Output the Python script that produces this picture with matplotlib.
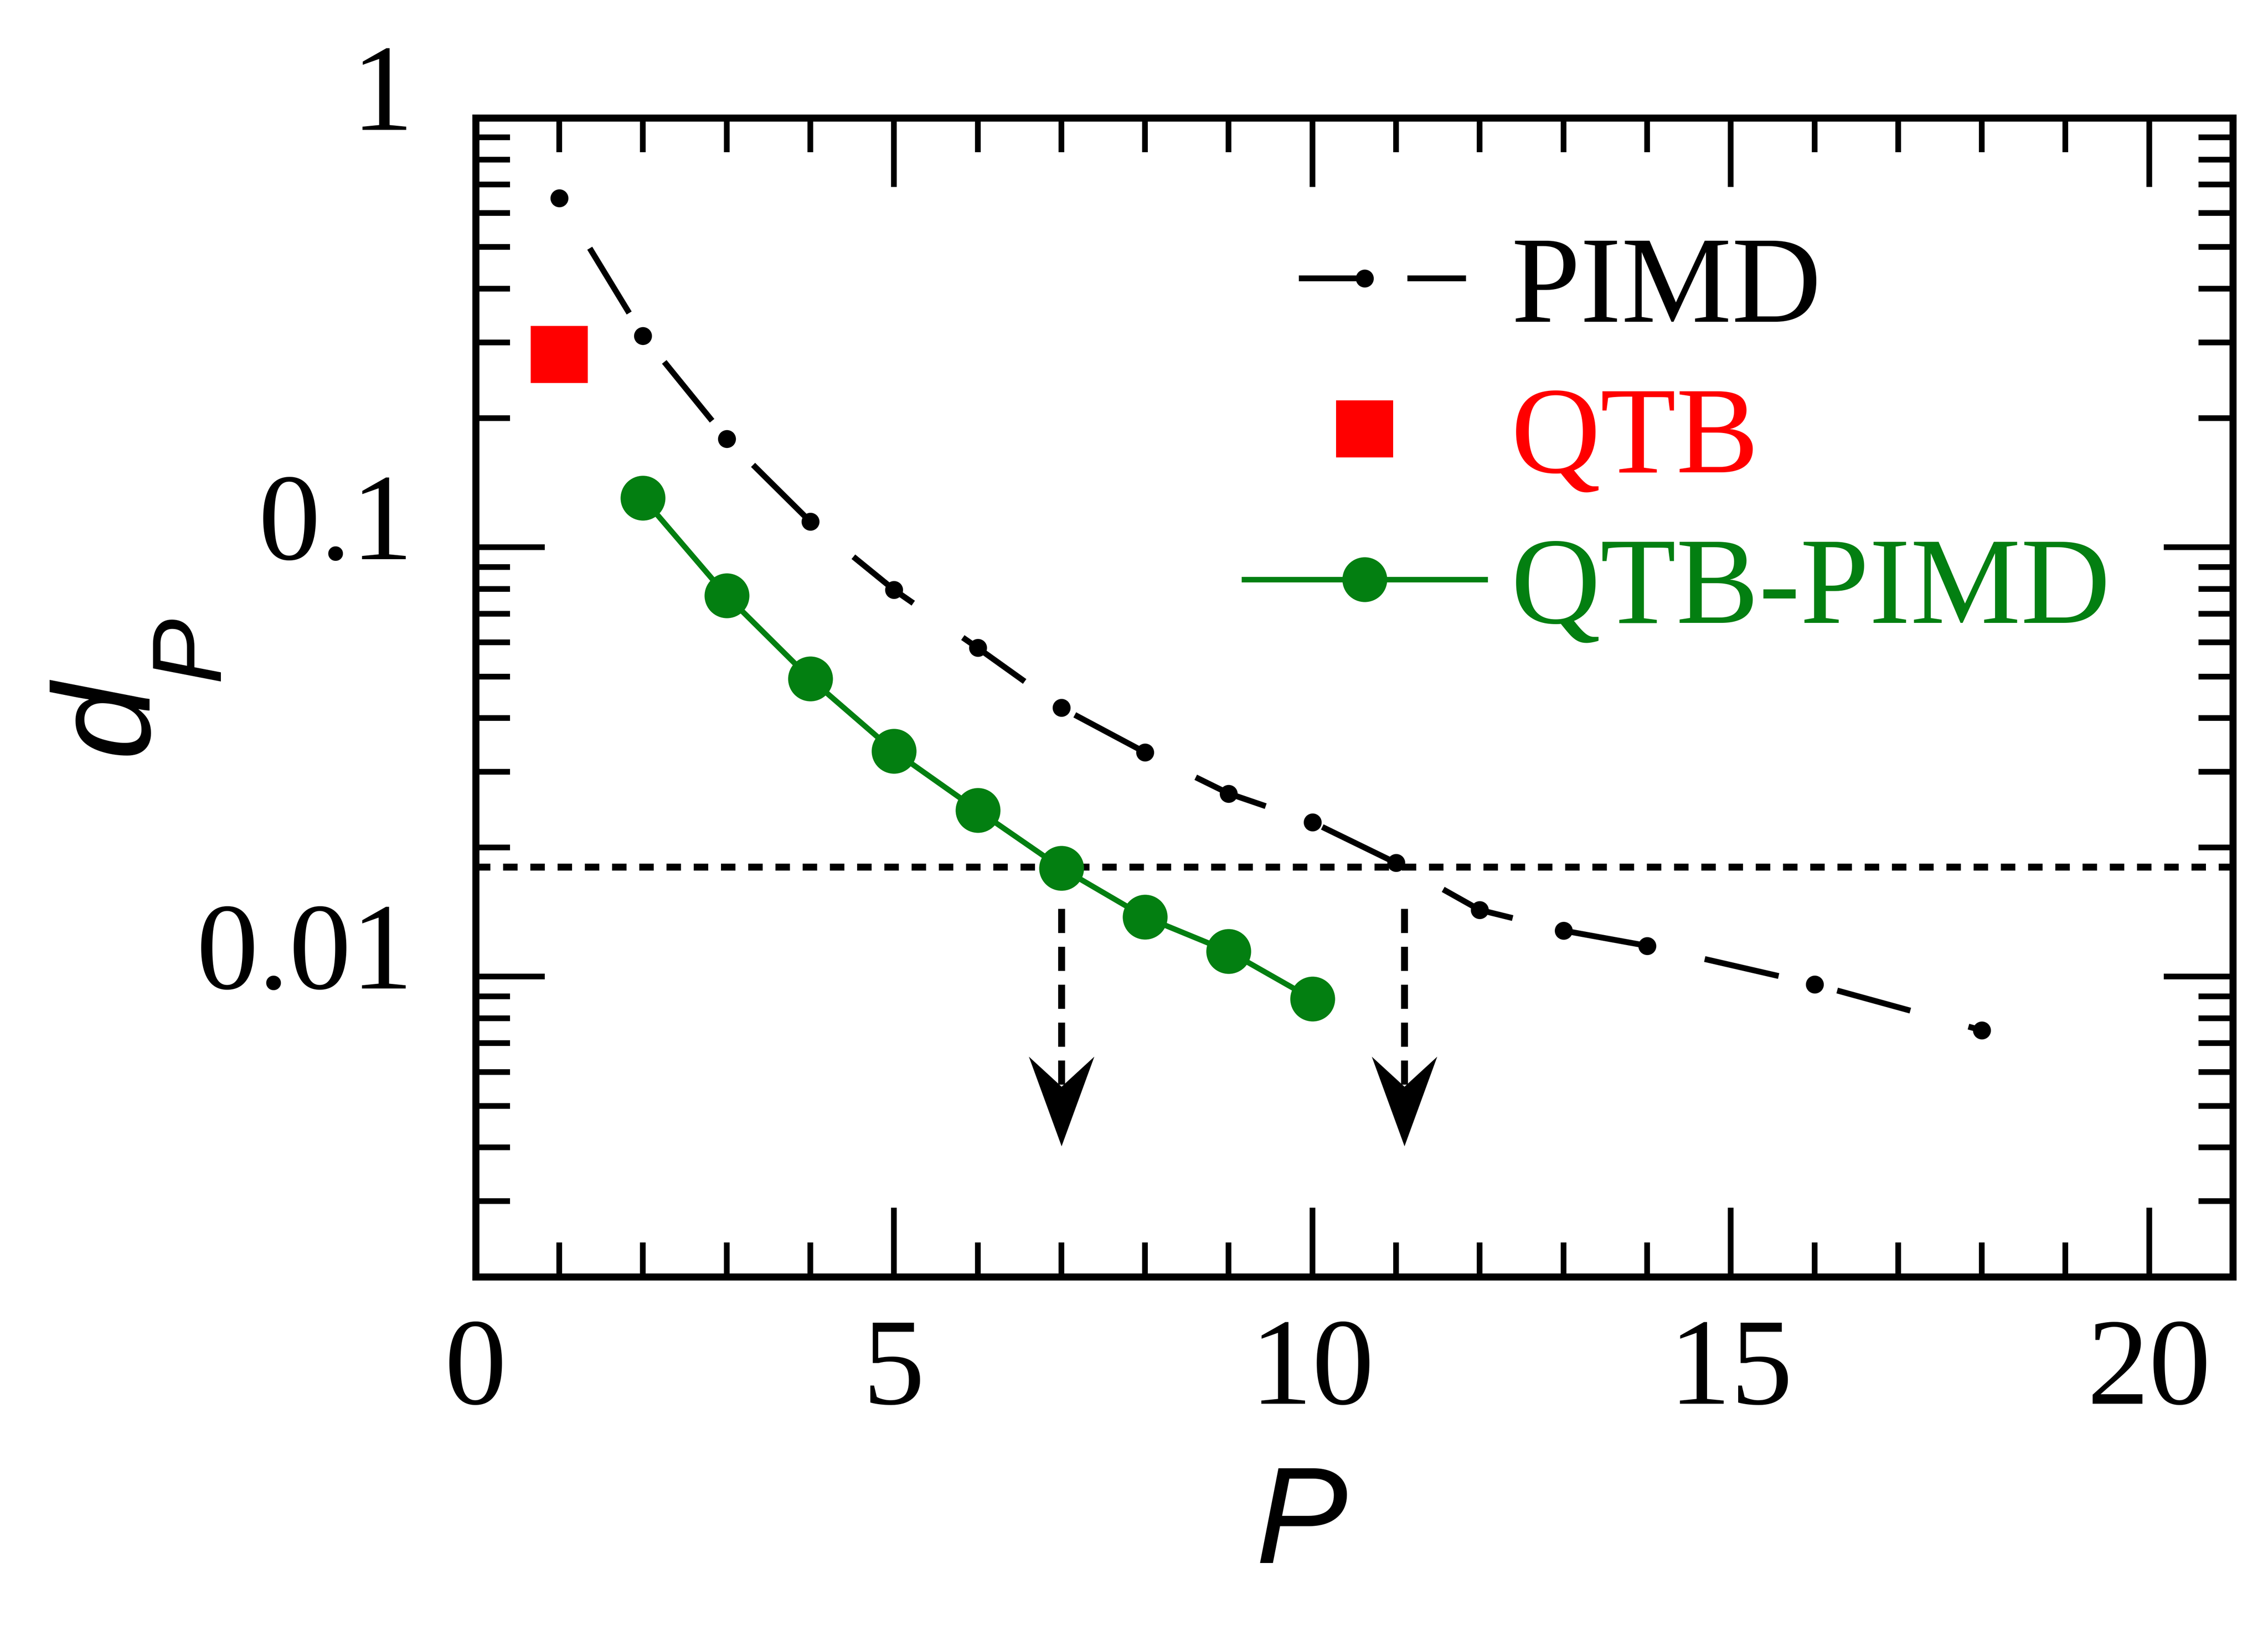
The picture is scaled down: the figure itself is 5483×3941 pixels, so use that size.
import numpy as np
import matplotlib
matplotlib.use("Agg")
import matplotlib.pyplot as plt
from matplotlib.ticker import MultipleLocator, LogLocator, FuncFormatter, NullFormatter
from matplotlib.path import Path
import matplotlib.transforms as mtransforms

# data
P_pimd = [1, 2, 3, 4, 5, 6, 7, 8, 9, 10, 11, 12, 13, 14, 16, 18]
d_pimd = [0.650, 0.311, 0.179, 0.1147, 0.0796, 0.0583, 0.0423, 0.0333, 0.0267,
          0.0229, 0.0184, 0.0143, 0.0128, 0.0118, 0.0096, 0.0075]

P_qtb = [1]
d_qtb = [0.281]

P_qtbpimd = [2, 3, 4, 5, 6, 7, 8, 9, 10]
d_qtbpimd = [0.1302, 0.0771, 0.0494, 0.0335, 0.0244, 0.0179, 0.01377, 0.01145, 0.00887]

d_ref = 0.018            # horizontal dotted level
arrow_x = [7, 11.1]      # where the arrows point down
arrow_top = 0.0144
arrow_tip = 0.00403

plt.rcParams['lines.scale_dashes'] = False

green = '#037f11'
red = '#ff0000'

fig = plt.figure(figsize=(5483 / 300, 3941 / 300), dpi=300)
ax = fig.add_axes([0.2097, 0.2167, 0.7748, 0.7110])

ax.plot(P_pimd, d_pimd, color='black', lw=3.4, ls=(45, (44, 35)),
        marker='o', ms=9.4, label='PIMD')
ax.plot(P_qtb, d_qtb, color=red, ls='none', marker='s', ms=33, mew=0,
        label='QTB')
ax.plot(P_qtbpimd, d_qtbpimd, color=green, lw=3.2, marker='o', ms=25,
        label='QTB-PIMD')

ax.axhline(d_ref, color='black', lw=4, dashes=(8.4, 7.4), zorder=1)

# dashed arrows pointing down
head = Path([(0, 0), (-0.73, 2), (0, 1.33), (0.73, 2), (0, 0)],
            [Path.MOVETO, Path.LINETO, Path.LINETO, Path.LINETO, Path.CLOSEPOLY])
for x in arrow_x:
    ax.plot([x, x], [arrow_top, arrow_tip * 1.3], color='black', lw=4,
            dashes=(14, 8), zorder=1)
    ax.plot([x], [arrow_tip], ls='none', marker=head, ms=104,
            color='black', mew=0)

ax.set_yscale('log')
ax.set_xlim(0, 21)
ax.set_ylim(0.002, 1)

ax.xaxis.set_major_locator(MultipleLocator(5))
ax.xaxis.set_minor_locator(MultipleLocator(1))
ax.yaxis.set_major_locator(LogLocator(base=10))
ax.yaxis.set_minor_locator(LogLocator(base=10, subs=np.arange(2, 10)))
ax.yaxis.set_major_formatter(FuncFormatter(lambda v, pos: '%g' % v))
ax.yaxis.set_minor_formatter(NullFormatter())

ax.tick_params(which='both', direction='in', top=True, right=True, width=3.3)
ax.tick_params(which='major', length=40)
ax.tick_params(which='minor', length=20)
ax.tick_params(axis='x', which='major', pad=24)
ax.tick_params(axis='y', which='major', pad=36)
for s in ax.spines.values():
    s.set_linewidth(4.1)

for lab in ax.get_xticklabels() + ax.get_yticklabels():
    lab.set_fontfamily('Liberation Serif')
    lab.set_fontsize(72)
off = mtransforms.ScaledTranslation(0, 18 / 72, fig.dpi_scale_trans)
for lab in ax.get_yticklabels():
    lab.set_transform(lab.get_transform() + off)

ax.set_xlabel('P', fontfamily='Liberation Sans', fontstyle='italic',
              fontsize=80, labelpad=19)
ax.xaxis.label.set_x(0.47)

# y label d_P, built from two pieces so the subscript sits like the original
ax.text(-0.2083, 0.4832, 'd', transform=ax.transAxes, rotation=90,
        ha='center', va='center', fontfamily='Liberation Sans',
        fontstyle='italic', fontsize=80)
ax.text(-0.1608, 0.5421, 'P', transform=ax.transAxes, rotation=90,
        ha='center', va='center', fontfamily='Liberation Sans',
        fontstyle='italic', fontsize=57)

leg = ax.legend(loc='upper left', bbox_to_anchor=(0.4374, 0.899),
                frameon=False, numpoints=1, handlelength=1.94,
                handletextpad=0.21, labelspacing=0.30, borderpad=0,
                borderaxespad=0, labelcolor='linecolor',
                prop={'family': 'Liberation Serif', 'size': 72})
# the PIMD sample in the legend is shorter, with its own dash phase
pimd_handle = leg.get_lines()[0]
xd = np.asarray(pimd_handle.get_xdata(), dtype=float)
pimd_handle.set_xdata([xd[0] + 31.7, xd[1], xd[-1] - 8.6])
pimd_handle.set_dashes((34, 29))

fig.savefig('out.png', dpi=300)
